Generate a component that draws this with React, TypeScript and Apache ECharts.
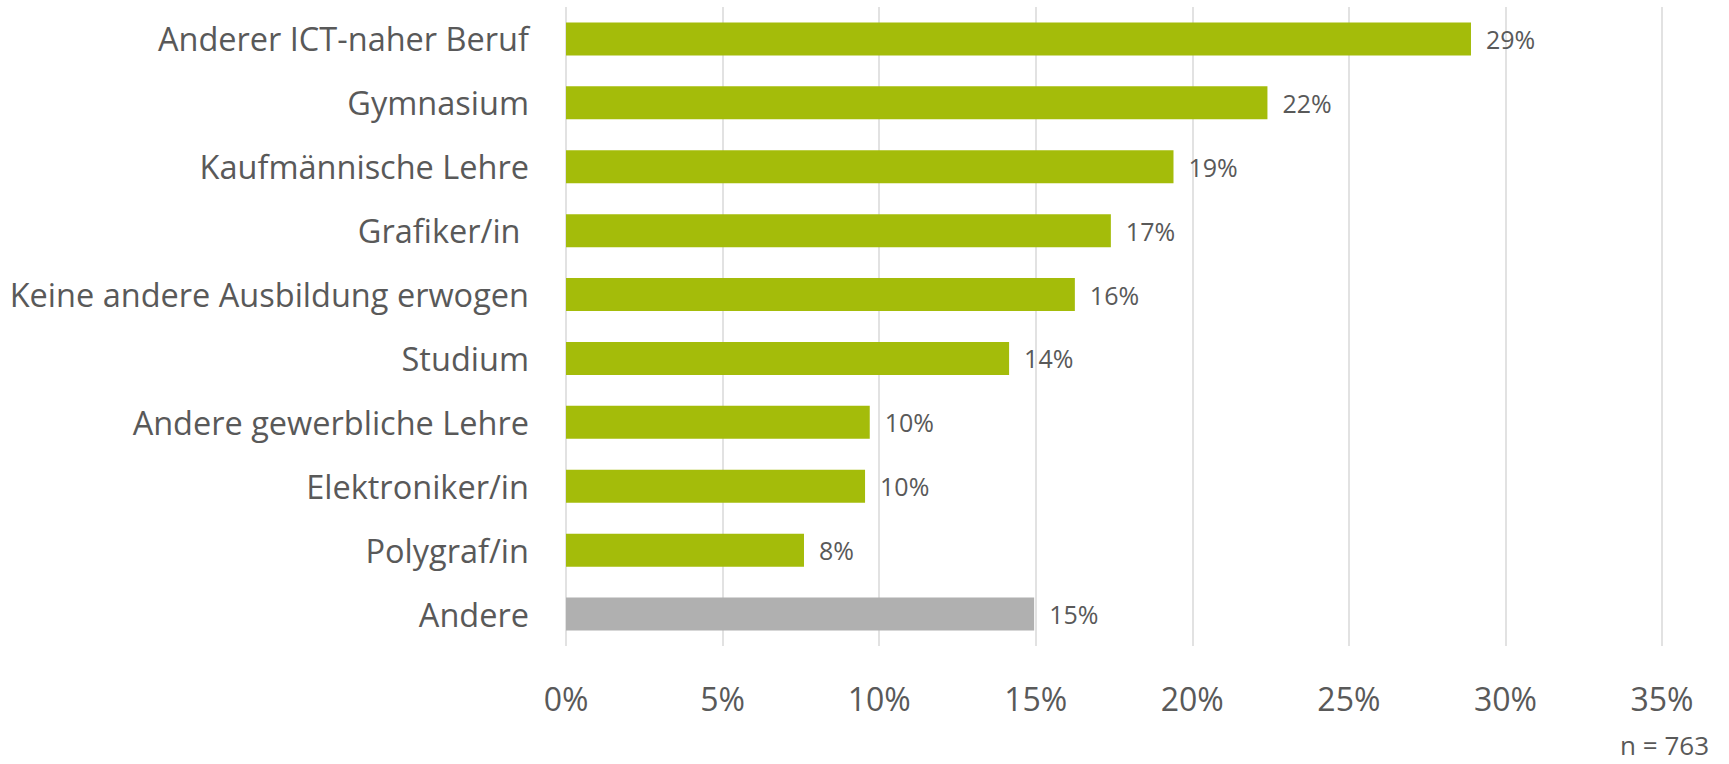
import React, { useEffect, useRef } from "react";
import * as echarts from "echarts";

const categories = [
  "Anderer ICT-naher Beruf",
  "Gymnasium",
  "Kaufmännische Lehre",
  "Grafiker/in ",
  "Keine andere Ausbildung erwogen",
  "Studium",
  "Andere gewerbliche Lehre",
  "Elektroniker/in",
  "Polygraf/in",
  "Andere",
];
const values = [28.9, 22.4, 19.4, 17.4, 16.25, 14.15, 9.7, 9.55, 7.6, 14.95];
const barColors = [
  "#A4BC0A", "#A4BC0A", "#A4BC0A", "#A4BC0A", "#A4BC0A",
  "#A4BC0A", "#A4BC0A", "#A4BC0A", "#A4BC0A", "#B0B0B0",
];
const xTicks = { min: 0, max: 35, interval: 5 };
const footnote = "n = 763";

const FONT = "'Open Sans', 'Noto Sans', sans-serif";
const TEXT = "#595959";

export default function App() {
  const ref = useRef<HTMLDivElement>(null);
  useEffect(() => {
    if (!ref.current) return;
    const chart = echarts.init(ref.current, null, { renderer: "svg" });
    chart.setOption({
      animation: false,
      textStyle: { fontFamily: FONT },
      grid: { left: 566, right: 67, top: 7, bottom: 118, containLabel: false },
      xAxis: {
        type: "value",
        min: xTicks.min,
        max: xTicks.max,
        interval: xTicks.interval,
        axisLine: { show: false },
        axisTick: { show: false },
        splitLine: { show: true, lineStyle: { color: "#D9D9D9", width: 1.5 } },
        axisLabel: {
          formatter: "{value}%",
          color: TEXT,
          fontSize: 32,
          fontFamily: FONT,
          margin: 36,
        },
      },
      yAxis: {
        type: "category",
        inverse: true,
        data: categories,
        axisLine: { show: false },
        axisTick: { show: false },
        axisLabel: {
          color: TEXT,
          fontSize: 32.5,
          fontFamily: FONT,
          margin: 37,
        },
      },
      series: [
        {
          type: "bar",
          barWidth: 33,
          data: values.map((v, i) => ({ value: v, itemStyle: { color: barColors[i] } })),
          label: {
            show: true,
            position: "right",
            distance: 15,
            color: TEXT,
            fontSize: 25,
            fontFamily: FONT,
            formatter: (p: any) => Math.round(p.value) + "%",
          },
        },
      ],
      graphic: [
        {
          type: "text",
          right: 20,
          top: 732,
          style: { text: footnote, fill: TEXT, fontSize: 26, fontFamily: FONT },
        },
      ],
    });
    return () => chart.dispose();
  }, []);
  return (
    <div
      ref={ref}
      style={{ position: "fixed", left: 0, top: 0, width: 1729, height: 764, background: "#fff" }}
    />
  );
}
